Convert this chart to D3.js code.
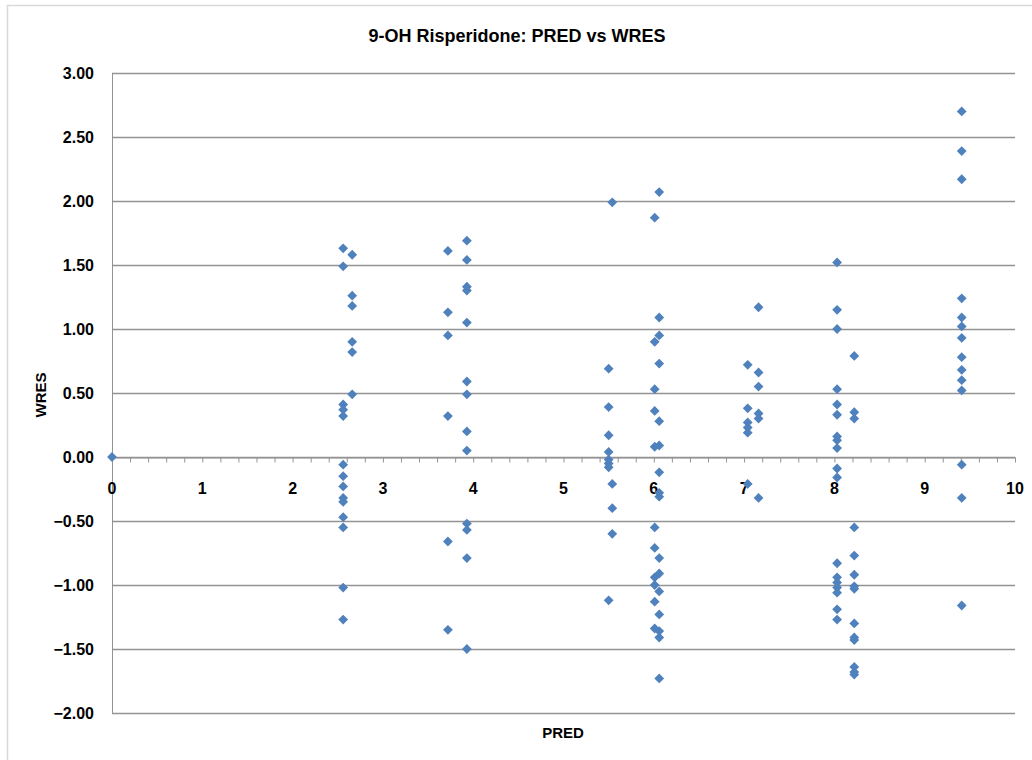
<!DOCTYPE html>
<html>
<head>
<meta charset="utf-8">
<script src="https://cdn.jsdelivr.net/npm/d3@7"></script>
<style>
  body { margin: 0; background: #fff; }
  svg text { font-family: "Liberation Sans", Arial, sans-serif; font-weight: bold; fill: #000; }
</style>
</head>
<body>
<div id="chart"></div>
<script>
let width = 1032;
let height = 760;
let margin = ({top: 73, right: 17, bottom: 47, left: 112});

// PRED column values and the WRES values that sit on each
const predLevels = [0, 2.56, 2.66, 3.72, 3.93, 5.50, 5.54, 6.01, 6.06, 7.04, 7.16, 8.03, 8.22, 9.41];
const wresByLevel = [
  [0],
  [1.63, 1.49, 0.41, 0.37, 0.32, -0.06, -0.15, -0.23, -0.32, -0.35, -0.47, -0.55, -1.02, -1.27],
  [1.58, 1.26, 1.18, 0.90, 0.82, 0.49],
  [1.61, 1.13, 0.95, 0.32, -0.66, -1.35],
  [1.69, 1.54, 1.33, 1.30, 1.05, 0.59, 0.49, 0.20, 0.05, -0.52, -0.57, -0.79, -1.50],
  [0.69, 0.39, 0.17, 0.04, -0.02, -0.05, -0.08, -1.12],
  [1.99, -0.21, -0.40, -0.60],
  [1.87, 0.90, 0.53, 0.36, 0.08, -0.55, -0.71, -0.94, -1.00, -1.13, -1.34],
  [2.07, 1.09, 0.95, 0.73, 0.28, 0.09, -0.12, -0.28, -0.31, -0.79, -0.91, -1.05, -1.23, -1.36, -1.41, -1.73],
  [0.72, 0.38, 0.27, 0.23, 0.19, -0.21],
  [1.17, 0.66, 0.55, 0.34, 0.30, -0.32],
  [1.52, 1.15, 1.00, 0.53, 0.41, 0.33, 0.16, 0.13, 0.07, -0.09, -0.16, -0.83, -0.94, -0.98, -1.02, -1.06, -1.19, -1.27],
  [0.79, 0.35, 0.30, -0.55, -0.77, -0.92, -1.01, -1.03, -1.30, -1.41, -1.43, -1.64, -1.68, -1.70],
  [2.70, 2.39, 2.17, 1.24, 1.09, 1.02, 0.93, 0.78, 0.68, 0.60, 0.52, -0.06, -0.32, -1.16]
];
const xTicks = [0, 1, 2, 3, 4, 5, 6, 7, 8, 9, 10];
const yTicks = [-2, -1.5, -1, -0.5, 0, 0.5, 1, 1.5, 2, 2.5, 3];

let points = [];
predLevels.forEach(function(p, i) {
    wresByLevel[i].forEach(function(w) { points.push({pred: p, wres: w}); });
});

let svg = d3.select("#chart")
    .append("svg")
    .attr("width", width)
    .attr("height", height);

// chart frame
svg.append("rect")
    .attr("x", 7.5).attr("y", 5.5)
    .attr("width", width + 20).attr("height", height + 20)
    .attr("fill", "none")
    .attr("stroke", "#d9d9d9")
    .attr("stroke-width", 1.5);

let xScale = d3.scaleLinear()
    .domain([0, 10])
    .range([margin.left, width - margin.right]);

let yScale = d3.scaleLinear()
    .domain([-2, 3])
    .range([height - margin.bottom, margin.top]);

// horizontal gridlines
svg.append("g")
    .selectAll("line")
    .data(yTicks)
    .join("line")
    .attr("x1", xScale(0))
    .attr("x2", xScale(10))
    .attr("y1", d => Math.round(yScale(d)) + 0.5)
    .attr("y2", d => Math.round(yScale(d)) + 0.5)
    .attr("stroke", "#939393")
    .attr("stroke-width", 1.4);

// y axis
let yAxis = d3.axisLeft(yScale)
    .tickValues(yTicks)
    .tickSize(0)
    .tickPadding(18)
    .tickFormat(d3.format(".2f"));

svg.append("g")
    .attr("transform", "translate(" + margin.left + ",0)")
    .call(yAxis)
    .call(g => g.select(".domain").attr("stroke", "#939393"))
    .call(g => g.selectAll("text").style("font-size", "16px"));

// x axis crossing at WRES = 0, minor ticks every 0.2
let xAxis = d3.axisBottom(xScale)
    .tickValues(d3.range(0, 10.01, 0.2))
    .tickSize(5)
    .tickSizeOuter(0)
    .tickFormat("");

svg.append("g")
    .attr("transform", "translate(0," + (Math.round(yScale(0)) + 0.5) + ")")
    .call(xAxis)
    .call(g => g.selectAll("line, .domain").attr("stroke", "#939393"));

svg.append("g")
    .selectAll("text")
    .data(xTicks)
    .join("text")
    .attr("x", d => xScale(d))
    .attr("y", yScale(0) + 37)
    .attr("text-anchor", "middle")
    .style("font-size", "16px")
    .text(d => d);

// points
svg.append("g")
    .selectAll("path")
    .data(points)
    .join("path")
    .attr("d", d3.symbol(d3.symbolSquare, 48))
    .attr("transform", d => "translate(" + xScale(d.pred) + "," + yScale(d.wres) + ") rotate(45)")
    .attr("fill", "#4f81bd");

// title and axis labels
svg.append("text")
    .attr("x", 517)
    .attr("y", 42)
    .attr("text-anchor", "middle")
    .style("font-size", "18px")
    .text("9-OH Risperidone: PRED vs WRES");

svg.append("text")
    .attr("x", 563)
    .attr("y", 738)
    .attr("text-anchor", "middle")
    .style("font-size", "15px")
    .text("PRED");

svg.append("text")
    .attr("transform", "translate(46,395) rotate(-90)")
    .attr("text-anchor", "middle")
    .style("font-size", "15px")
    .text("WRES");
</script>
</body>
</html>
